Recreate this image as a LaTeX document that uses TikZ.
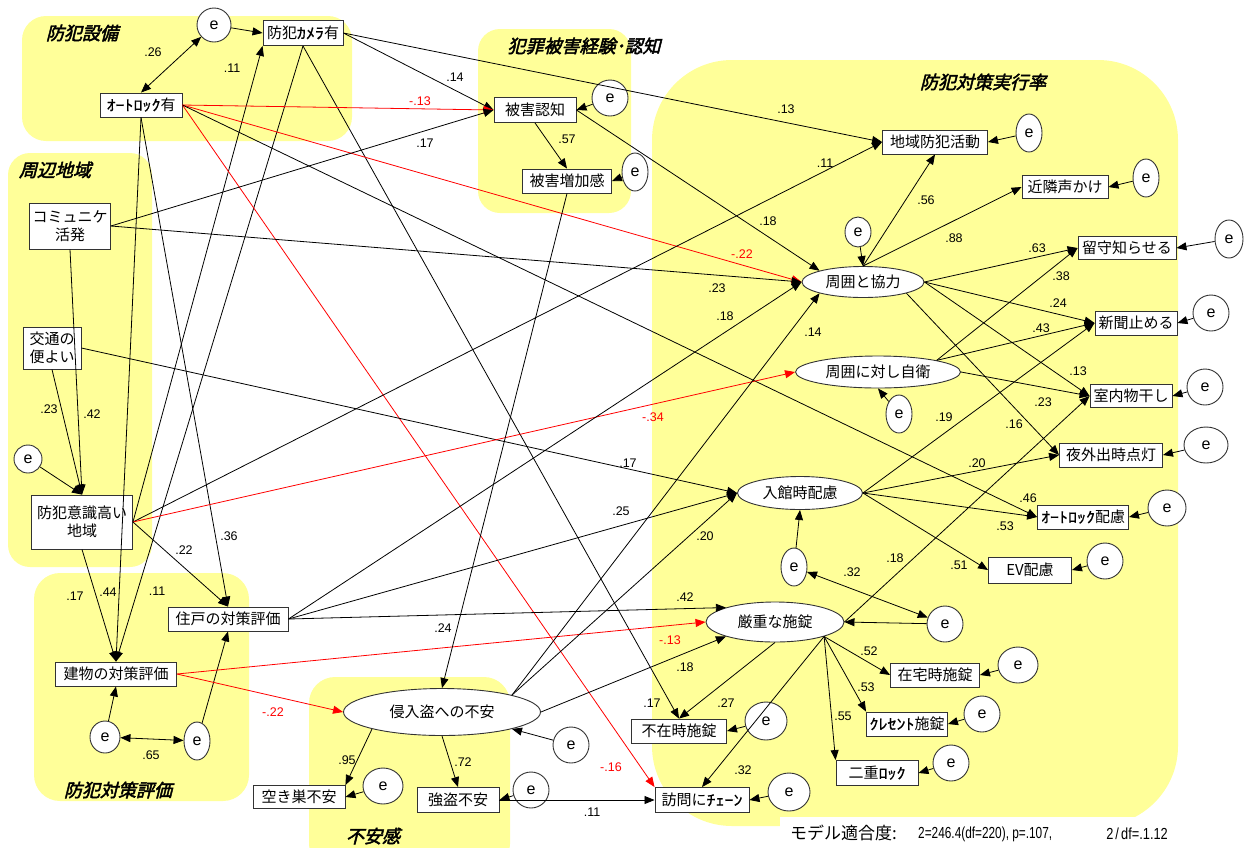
\documentclass[tikz,border=0pt]{standalone}
\usepackage{fontspec}
\setmainfont{Liberation Sans}
\newfontfamily\jp{Noto Sans CJK JP}
\newfontfamily\jphw[FakeBold=0.7]{Noto Sans CJK JP}
\newfontfamily\jpbi[FakeSlant=0.25,FakeBold=2.5]{Noto Sans CJK JP}
\newcommand\hw[1]{\scalebox{1.2}[1]{\jphw #1}}
\usetikzlibrary{arrows.meta,shapes.geometric}
\definecolor{grpyel}{HTML}{FFFF99}

\begin{document}
\begin{tikzpicture}[x=1pt, y=-1pt,
  grp/.style={fill=grpyel},
  ttl/.style={font=\jpbi\fontsize{18}{18}\selectfont, inner sep=0},
  box/.style={draw=black!80, fill=white, line width=0.9pt, inner sep=0, minimum height=24, align=center, font=\jp\fontsize{15}{18}\selectfont},
  lat/.style={ellipse, draw=black!80, fill=white, line width=0.9pt, inner sep=0, font=\jp\fontsize{15}{15}\selectfont},
  err/.style={ellipse, draw=black!80, fill=white, line width=0.9pt, inner sep=0, minimum width=36, minimum height=36, font=\fontsize{16}{16}\selectfont},
  pth/.style={-{Triangle[length=10pt,width=8pt]}, line width=0.8pt},
  neg/.style={pth, red},
  dbl/.style={{Triangle[length=10pt,width=8pt]}-{Triangle[length=10pt,width=8pt]}, line width=0.8pt},
  lbl/.style={font=\fontsize{12.5}{12.5}\selectfont, inner sep=0},
  nlbl/.style={lbl, text=red}]

\useasboundingbox (0,0) rectangle (1247,847);

\fill[grp, rounded corners=24pt] (22,16) rectangle (352,141);
\fill[grp, rounded corners=22pt] (8,153) rectangle (152,567);
\fill[grp, rounded corners=22pt] (478,29) rectangle (631,213);
\fill[grp, rounded corners=80pt] (652,60) rectangle (1178,826);
\fill[grp, rounded corners=26pt] (34,573) rectangle (249,801);
\fill[grp, rounded corners=26pt] (309,677) rectangle (510,870);
\fill[white] (780,817) rectangle (1247,847);

\node[ttl] (t1) at (82,33) {防犯設備};
\node[ttl] (t2) at (55,170) {周辺地域};
\node[ttl] (t3) at (584,46) {犯罪被害経験･認知};
\node[ttl] (t4) at (983,82) {防犯対策実行率};
\node[ttl] (t5) at (118,790) {防犯対策評価};
\node[ttl] (t6) at (373,836) {不安感};

\begin{scope}[every node/.style={box}]
\node[minimum width=80, minimum height=25] (cam) at (303,33) {防犯\hw{ｶﾒﾗ}有};
\node[minimum width=82] (alock) at (141,105) {\hw{ｵｰﾄﾛｯｸ}有};
\node[minimum width=82, minimum height=25] (hcog) at (535,110) {被害認知};
\node[minimum width=89] (hinc) at (567,181) {被害増加感};
\node[minimum width=81, minimum height=46] (comm) at (70,226) {コミュニケ\\活発};
\node[minimum width=58, minimum height=42] (traf) at (52,348) {交通の\\便よい};
\node[minimum width=101, minimum height=54] (aware) at (82,522) {防犯意識高い\\地域};
\node[minimum width=120] (unit) at (228,619) {住戸の対策評価};
\node[minimum width=121] (bldg) at (116,674) {建物の対策評価};
\node[minimum width=92, minimum height=23] (akis) at (299,797) {空き巣不安};
\node[minimum width=82, minimum height=25] (gto) at (458,800) {強盗不安};
\node[minimum width=94, minimum height=25] (chain) at (702,800) {訪問に\hw{ﾁｪｰﾝ}};
\node[minimum width=95] (fuzai) at (679,731) {不在時施錠};
\node[minimum width=89] (zaitaku) at (935,675) {在宅時施錠};
\node[minimum width=81] (cres) at (907,724) {\hw{ｸﾚｾﾝﾄ}施錠};
\node[minimum width=82, minimum height=25] (dbl) at (877,773) {二重\hw{ﾛｯｸ}};
\node[minimum width=83, minimum height=26] (ev) at (1030,570) {EV配慮};
\node[minimum width=91] (alock2) at (1083,517) {\hw{ｵｰﾄﾛｯｸ}配慮};
\node[minimum width=103] (yoru) at (1111,455) {夜外出時点灯};
\node[minimum width=82, minimum height=23] (hosi) at (1131,396) {室内物干し};
\node[minimum width=82] (shin) at (1136,323) {新聞止める};
\node[minimum width=98, minimum height=23] (rusu) at (1127,248) {留守知らせる};
\node[minimum width=86, minimum height=23] (koe) at (1065,187) {近隣声かけ};
\node[minimum width=105] (chiiki) at (935,142) {地域防犯活動};
\end{scope}

\begin{scope}[every node/.style={lat}]
\node[minimum width=122, minimum height=31] (kyo) at (863,282) {周囲と協力};
\node[minimum width=165, minimum height=32] (jiei) at (878,372) {周囲に対し自衛};
\node[minimum width=125, minimum height=33] (nyu) at (800,493) {入館時配慮};
\node[minimum width=138, minimum height=40] (gen) at (775,622) {厳重な施錠};
\node[minimum width=197, minimum height=47] (fuan) at (442,712) {侵入盗への不安};
\end{scope}

\begin{scope}[every node/.style={err}]
\node[minimum width=34, minimum height=34] (e1) at (214,25) {e};
\node (e2) at (610,98) {e};
\node[minimum width=26, minimum height=38] (e3) at (635,172) {e};
\node[minimum width=28, minimum height=28] (e4) at (28,459) {e};
\node[minimum width=30, minimum height=32] (e5) at (105,737) {e};
\node[minimum width=26, minimum height=38] (e6) at (197,741) {e};
\node[minimum width=40] (e7) at (383,786) {e};
\node (e8) at (571,745) {e};
\node (e9) at (531,790) {e};
\node[minimum width=42, minimum height=38] (e10) at (789,792) {e};
\node[minimum width=42, minimum height=38] (e11) at (766,721) {e};
\node (e12) at (945,624) {e};
\node[minimum width=26, minimum height=38] (e13) at (794,567) {e};
\node[minimum width=40] (e14) at (1018,665) {e};
\node (e15) at (982,714) {e};
\node (e16) at (951,763) {e};
\node (e17) at (1105,561) {e};
\node[minimum width=38] (e18) at (1167,508) {e};
\node[minimum width=44] (e19) at (1206,445) {e};
\node (e20) at (1205,387) {e};
\node (e21) at (1211,313) {e};
\node[minimum width=26, minimum height=38] (e22) at (899,414) {e};
\node[minimum width=26, minimum height=30] (e23) at (858,232) {e};
\node[minimum width=28, minimum height=38] (e24) at (1229,239) {e};
\node[minimum width=26, minimum height=38] (e25) at (1146,178) {e};
\node[minimum width=26, minimum height=38] (e26) at (1029,133) {e};
\end{scope}

\draw[dbl] (e1) -- (alock.north) node[lbl] at (153,52) {.26};
\draw[dbl] (e5) -- (e6) node[lbl] at (151,755) {.65};
\draw[dbl] (e13) -- (e12) node[lbl] at (852,572) {.32};

\draw[pth] (e1) -- (cam.west);
\draw[pth] (e2) -- (hcog.east);
\draw[pth] (e3) -- (hinc.east);
\draw[pth] (e4) -- (aware.north);
\draw[pth] (e5) -- (bldg.south);
\draw[pth] (e6) -- (unit.south);
\draw[pth] (e7) -- (akis.east);
\draw[pth] (e8) -- (fuan.south east);
\draw[pth] (e9) -- (gto.east);
\draw[pth] (e10) -- (chain.east);
\draw[pth] (e11) -- (fuzai.east);
\draw[pth] (e12) -- (gen.east);
\draw[pth] (e13) -- (nyu.south);
\draw[pth] (e14) -- (zaitaku.east);
\draw[pth] (e15) -- (cres.east);
\draw[pth] (e16) -- (dbl.east);
\draw[pth] (e17) -- (ev.east);
\draw[pth] (e18) -- (alock2.east);
\draw[pth] (e19) -- (yoru.east);
\draw[pth] (e20) -- (hosi.east);
\draw[pth] (e21) -- (shin.east);
\draw[pth] (e22) -- (jiei.south);
\draw[pth] (e23) -- (kyo.north);
\draw[pth] (e24) -- (rusu.east);
\draw[pth] (e25) -- (koe.east);
\draw[pth] (e26) -- (chiiki.east);

\draw[pth] (cam.east) -- (chiiki.west) node[lbl] at (786,109) {.13};
\draw[pth] (cam.east) -- (hcog.west) node[lbl] at (455,77) {.14};
\draw[pth] (cam.south) -- (bldg.north) node[lbl] at (157,591) {.11};
\draw[pth] (cam.south) -- (fuzai.north) node[lbl] at (652,703) {.17};
\draw[pth] (aware.east) -- (cam.south west) node[lbl] at (232,68) {.11};
\draw[neg] (alock.east) -- (hcog.west) node[nlbl] at (420,101) {-.13};
\draw[neg] (alock.east) -- (kyo.west) node[nlbl] at (742,254) {-.22};
\draw[neg] (alock.east) -- (chain.north west) node[nlbl] at (611,767) {-.16};
\draw[pth] (alock.east) -- (alock2.west) node[lbl] at (1028,498) {.46};
\draw[pth] (alock.south) -- (bldg.north) node[lbl] at (108,592) {.44};
\draw[pth] (alock.south) -- (unit.north) node[lbl] at (229,536) {.36};
\draw[pth] (comm.east) -- (hcog.west) node[lbl] at (425,143) {.17};
\draw[pth] (comm.east) -- (kyo.west) node[lbl] at (717,288) {.23};
\draw[pth] (comm.south) -- (aware.north) node[lbl] at (92,414) {.42};
\draw[pth] (traf.south) -- (aware.north) node[lbl] at (49,409) {.23};
\draw[pth] (traf.east) -- (nyu.west) node[lbl] at (628,463) {.17};
\draw[pth] (aware.east) -- (chiiki.west) node[lbl] at (825,163) {.11};
\draw[neg] (aware.east) -- (jiei.west) node[nlbl] at (653,417) {-.34};
\draw[pth] (aware.east) -- (unit.north) node[lbl] at (184,550) {.22};
\draw[pth] (aware.south) -- (bldg.north) node[lbl] at (75,596) {.17};
\draw[pth] (unit.east) -- (kyo.west) node[lbl] at (725,316) {.18};
\draw[pth] (unit.east) -- (nyu.west) node[lbl] at (621,511) {.25};
\draw[pth] (unit.east) -- (gen.north west) node[lbl] at (685,597) {.42};
\draw[neg] (bldg.east) -- (gen.west) node[nlbl] at (670,640) {-.13};
\draw[neg] (bldg.east) -- (fuan.west) node[nlbl] at (273,712) {-.22};
\draw[pth] (hcog.south) -- (hinc.north) node[lbl] at (567,139) {.57};
\draw[pth] (hcog.east) -- (kyo.north west) node[lbl] at (768,221) {.18};
\draw[pth] (hinc.south) -- (fuan.north) node[lbl] at (443,628) {.24};
\draw[pth] (fuan.south west) -- (akis.north east) node[lbl] at (347,760) {.95};
\draw[pth] (fuan.south) -- (gto.north) node[lbl] at (463,762) {.72};
\draw[pth] (fuan.east) -- (gen.south west) node[lbl] at (685,667) {.18};
\draw[pth] (fuan.north east) -- (kyo.south west) node[lbl] at (813,332) {.14};
\draw[pth] (fuan.north east) -- (nyu.west) node[lbl] at (705,536) {.20};
\draw[pth] (gto.east) -- (chain.west) node[lbl] at (592,812) {.11};
\draw[pth] (gen.south) -- (fuzai.north) node[lbl] at (726,703) {.27};
\draw[pth] (gen.south east) -- (chain.north) node[lbl] at (743,770) {.32};
\draw[pth] (gen.south east) -- (zaitaku.west) node[lbl] at (869,651) {.52};
\draw[pth] (gen.south east) -- (cres.north west) node[lbl] at (866,687) {.53};
\draw[pth] (gen.south east) -- (dbl.north west) node[lbl] at (843,716) {.55};
\draw[pth] (gen.east) -- (hosi.west) node[lbl] at (895,558) {.18};
\draw[pth] (kyo.north) -- (chiiki.south) node[lbl] at (926,200) {.56};
\draw[pth] (kyo.north) -- (koe.west) node[lbl] at (954,238) {.88};
\draw[pth] (kyo.east) -- (rusu.west) node[lbl] at (1037,248) {.63};
\draw[pth] (kyo.east) -- (shin.west) node[lbl] at (1058,303) {.24};
\draw[pth] (kyo.east) -- (hosi.west) node[lbl] at (1078,371) {.13};
\draw[pth] (kyo.south east) -- (yoru.west) node[lbl] at (1014,424) {.16};
\draw[pth] (jiei.north east) -- (rusu.west) node[lbl] at (1061,276) {.38};
\draw[pth] (jiei.north east) -- (shin.west) node[lbl] at (1041,328) {.43};
\draw[pth] (jiei.east) -- (hosi.west) node[lbl] at (1043,402) {.23};
\draw[pth] (nyu.east) -- (shin.west) node[lbl] at (944,417) {.19};
\draw[pth] (nyu.east) -- (yoru.west) node[lbl] at (977,463) {.20};
\draw[pth] (nyu.east) -- (alock2.west) node[lbl] at (1005,526) {.53};
\draw[pth] (nyu.east) -- (ev.west) node[lbl] at (959,565) {.51};

\node[anchor=west, inner sep=0, font=\jp\fontsize{17}{17}\selectfont] (fit) at (790,833) {モデル適合度:};
\node[anchor=west, inner sep=0, font=\fontsize{16}{16}\selectfont] (chi) at (918,834) {\scalebox{0.74}[1]{2=246.4(df=220), p=.107,}};
\node[anchor=east, inner sep=0, font=\fontsize{16}{16}\selectfont] (ratio) at (1168,834) {\scalebox{0.8}[1]{2\,/\,df=.1.12}};
\end{tikzpicture}
\end{document}
